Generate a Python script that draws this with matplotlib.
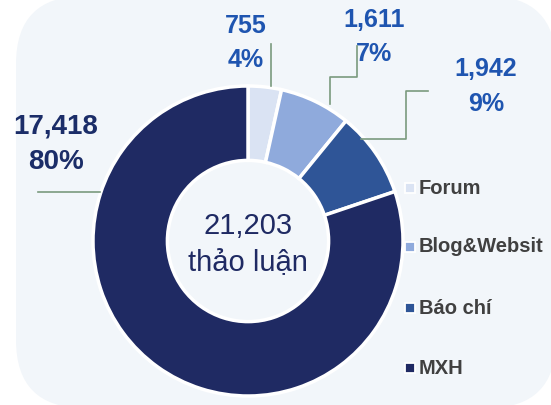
import matplotlib.pyplot as plt
from matplotlib.patches import FancyBboxPatch

# data
categories = ['Forum', 'Blog&Websit', 'Báo chí', 'MXH']
values = [755, 1611, 1942, 17418]
percents = [4, 7, 9, 80]
total_value = 21203
total_label = 'thảo luận'
colors = ['#DAE3F3', '#8FAADC', '#2F5597', '#1F2A63']

W, H = 551, 405
fig = plt.figure(figsize=(W / 100, H / 100), dpi=100)
fig.patch.set_facecolor('white')
ax = fig.add_axes([0, 0, 1, 1])

def Y(y):
    # image-style y (top down) -> axes y
    return H - y

# rounded background panel
panel = FancyBboxPatch((16, Y(408)), 540, 412,
                       boxstyle='round,pad=0,rounding_size=68',
                       facecolor='#F2F6FA', edgecolor='none', zorder=0)
ax.add_patch(panel)

cx, cy, R = 248, Y(241), 155
wedges, _ = ax.pie(values, colors=colors, startangle=90, counterclock=False,
                   radius=R, center=(cx, cy), frame=True,
                   wedgeprops=dict(width=R * 0.48, edgecolor='white', linewidth=2.5))
ax.set_xlim(0, W)
ax.set_ylim(0, H)
ax.set_aspect('equal')
ax.axis('off')

ax.text(cx, Y(226), f'{total_value:,}', ha='center', va='center', fontsize=21,
        color='#1F2A63', family='Liberation Sans')
ax.text(cx, Y(263), total_label, ha='center', va='center', fontsize=21,
        color='#1F2A63', family='Liberation Sans')

# value labels
lab_font = dict(family='Liberation Sans', fontweight='bold', ha='center', va='center')
label_pos = [(246, 26, 60), (374, 20, 54), (486, 69, 104), (56, 126, 162)]
label_col = ['#1F55B0', '#1F55B0', '#1F55B0', '#1B2D68']
label_size = [18, 18, 18, 20]
for v, p, (lx, ly1, ly2), c, s in zip(values, percents, label_pos, label_col, label_size):
    ax.text(lx, Y(ly1), f'{v:,}', color=c, fontsize=s, **lab_font)
    ax.text(lx, Y(ly2), f'{p}%', color=c, fontsize=s, **lab_font)

# leader lines
leaders = [
    [(271, 44), (271, 86)],
    [(357, 46), (357, 77), (330, 77), (330, 104)],
    [(428, 91), (406, 91), (406, 139), (361, 139)],
    [(38, 192), (100, 192)],
]
for pts in leaders:
    xs = [p[0] for p in pts]
    ys = [Y(p[1]) for p in pts]
    ax.plot(xs, ys, color='#7A9A7E', linewidth=1.2, zorder=3)

# legend
legend_y = [188, 247, 308, 368]
for name, c, ly in zip(categories, colors, legend_y):
    ax.plot(410, Y(ly), marker='s', markersize=6.5, markerfacecolor=c,
            markeredgecolor='white', markeredgewidth=1.3, zorder=4)
    ax.text(419, Y(ly), name, ha='left', va='center', fontsize=14.5,
            fontweight='bold', color='#404040', family='Liberation Sans')

fig.savefig('out.png', dpi=100)
